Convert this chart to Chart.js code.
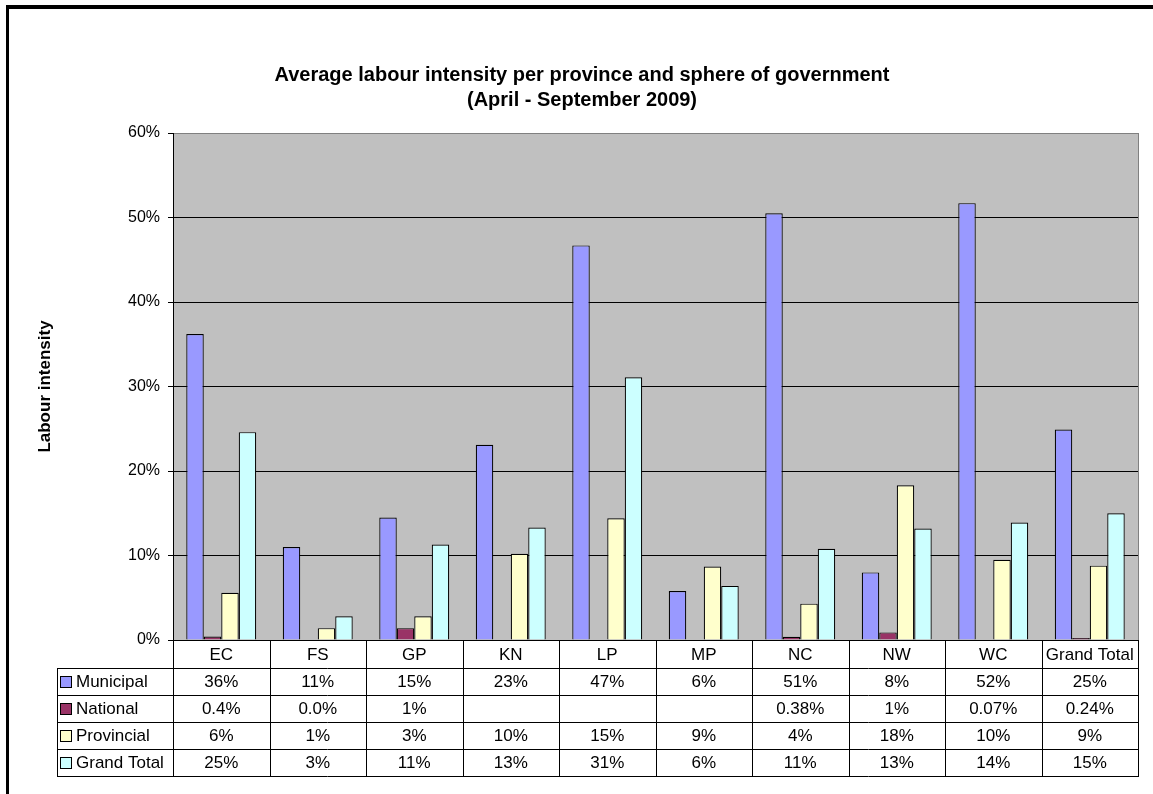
<!DOCTYPE html>
<html>
<head>
<meta charset="utf-8">
<title>Average labour intensity</title>
<script src="https://cdn.jsdelivr.net/npm/chart.js@4.4.1/dist/chart.umd.min.js"></script>
<style>
  html, body { margin: 0; padding: 0; background: #fff; }
  #wrap { position: relative; width: 1153px; height: 794px; }
</style>
</head>
<body>
<div id="wrap"><canvas id="chart" width="1153" height="794"></canvas></div>
<script>
// data (percent)
const provinces = ["EC", "FS", "GP", "KN", "LP", "MP", "NC", "NW", "WC", "Grand Total"];
const municipal = [36.2, 11.0, 14.5, 23.1, 46.7, 5.8, 50.5, 8.0, 51.7, 24.9];
const national = [0.4, 0.0, 1.4, null, null, null, 0.38, 0.9, 0.07, 0.24];
const provincial = [5.6, 1.4, 2.8, 10.2, 14.4, 8.7, 4.3, 18.3, 9.5, 8.8];
const grandTotal = [24.6, 2.8, 11.3, 13.3, 31.1, 6.4, 10.8, 13.2, 13.9, 15.0];

// text shown in the data table under the chart
const municipalText = ["36%", "11%", "15%", "23%", "47%", "6%", "51%", "8%", "52%", "25%"];
const nationalText = ["0.4%", "0.0%", "1%", "", "", "", "0.38%", "1%", "0.07%", "0.24%"];
const provincialText = ["6%", "1%", "3%", "10%", "15%", "9%", "4%", "18%", "10%", "9%"];
const grandTotalText = ["25%", "3%", "11%", "13%", "31%", "6%", "11%", "13%", "14%", "15%"];

const seriesNames = ["Municipal", "National", "Provincial", "Grand Total"];
const seriesColors = ["#9999FF", "#993366", "#FFFFCC", "#CCFFFF"];
const yTicks = [0, 10, 20, 30, 40, 50, 60];

const FONT = "'Liberation Sans', Arial, sans-serif";

const seriesValues = [municipal, national, provincial, grandTotal];
const seriesText = [municipalText, nationalText, provincialText, grandTotalText];

// grey plot background + right edge
const plotBackground = {
  id: "plotBackground",
  beforeDraw(chart) {
    const { ctx, chartArea: a } = chart;
    ctx.save();
    ctx.fillStyle = "#C0C0C0";
    ctx.fillRect(a.left, a.top, a.right - a.left, a.bottom - a.top);
    ctx.restore();
  },
  afterDraw(chart) {
    const { ctx, chartArea: a } = chart;
    ctx.save();
    ctx.strokeStyle = "#808080";
    ctx.lineWidth = 1;
    ctx.beginPath();
    ctx.moveTo(Math.round(a.right) + 0.5, a.top);
    ctx.lineTo(Math.round(a.right) + 0.5, a.bottom);
    ctx.stroke();
    ctx.restore();
  }
};

// data table drawn under the plot, columns taken from the x scale
const dataTable = {
  id: "dataTable",
  afterDraw(chart) {
    const { ctx, chartArea: a } = chart;
    const x = chart.scales.x;
    const n = provinces.length;
    const colW = (x.right - x.left) / n;
    const top = Math.round(a.bottom);
    const headerH = 28;
    const rowH = 27;
    const legendLeft = 57;
    const rowsTop = top + headerH;
    const bottom = rowsTop + rowH * seriesNames.length;
    const px = v => Math.round(v) + 0.5;

    ctx.save();
    ctx.strokeStyle = "#000";
    ctx.lineWidth = 1;
    ctx.beginPath();
    ctx.moveTo(x.left, px(top));
    ctx.lineTo(x.right, px(top));
    for (let r = 0; r <= seriesNames.length; r++) {
      const y = px(rowsTop + r * rowH);
      ctx.moveTo(legendLeft, y);
      ctx.lineTo(x.right + 1, y);
    }
    for (let i = 0; i <= n; i++) {
      const cx = px(x.left + i * colW);
      ctx.moveTo(cx, top);
      ctx.lineTo(cx, bottom);
    }
    ctx.moveTo(px(legendLeft), rowsTop);
    ctx.lineTo(px(legendLeft), bottom);
    ctx.stroke();

    ctx.fillStyle = "#000";
    ctx.font = "17px " + FONT;
    ctx.textBaseline = "middle";
    ctx.textAlign = "center";
    provinces.forEach((p, i) => {
      ctx.fillText(p, x.getPixelForValue(i), top + headerH / 2 + 1);
    });

    seriesNames.forEach((name, r) => {
      const yMid = rowsTop + r * rowH + rowH / 2 + 1;
      ctx.fillStyle = seriesColors[r];
      ctx.fillRect(61, Math.round(yMid - 6), 10, 10);
      ctx.strokeStyle = "#000";
      ctx.strokeRect(60.5, Math.round(yMid - 6) - 0.5, 11, 11);
      ctx.fillStyle = "#000";
      ctx.textAlign = "left";
      ctx.fillText(name, 76, yMid);
      ctx.textAlign = "center";
      seriesText[r].forEach((t, i) => {
        if (t) ctx.fillText(t, x.getPixelForValue(i), yMid);
      });
    });

    // outer frame of the picture
    ctx.fillStyle = "#000";
    ctx.fillRect(6, 5, 1147, 4);
    ctx.fillRect(6, 5, 3, 789);
    ctx.restore();
  }
};

const datasets = seriesNames.map((name, i) => ({
  label: name,
  data: seriesValues[i],
  backgroundColor: seriesColors[i],
  borderColor: "#000",
  borderWidth: 1.2,
  borderSkipped: "start",
  barPercentage: 1,
  categoryPercentage: 0.725
}));

new Chart(document.getElementById("chart"), {
  type: "bar",
  data: { labels: provinces, datasets },
  plugins: [plotBackground, dataTable],
  options: {
    responsive: false,
    animation: false,
    layout: { padding: { left: 26, right: 15, top: 52, bottom: 154 } },
    plugins: {
      legend: { display: false },
      tooltip: { enabled: false },
      title: {
        display: true,
        text: ["Average labour intensity per province and sphere of government", "(April - September 2009)"],
        color: "#000",
        font: { family: FONT, size: 20, weight: "bold", lineHeight: 1.25 },
        padding: { top: 10.5, bottom: 20.5 }
      }
    },
    scales: {
      x: {
        display: false,
        grid: { display: false }
      },
      y: {
        min: 0,
        max: 60,
        afterFit(scale) { scale.width = 173 - 26; },
        afterBuildTicks(scale) { scale.ticks = yTicks.map(v => ({ value: v })); },
        ticks: {
          color: "#000",
          font: { family: FONT, size: 16 },
          padding: 8,
          callback: v => v + "%"
        },
        grid: {
          color: c => (c.tick && c.tick.value === 60 ? "#808080" : "#000"),
          tickColor: "#000",
          tickLength: 5,
          lineWidth: 1
        },
        border: { display: true, color: "#000", width: 1 },
        title: {
          display: true,
          text: "Labour intensity",
          color: "#000",
          font: { family: FONT, size: 17, weight: "bold" },
          padding: { top: 9, bottom: 0 }
        }
      }
    }
  }
});
</script>
</body>
</html>
